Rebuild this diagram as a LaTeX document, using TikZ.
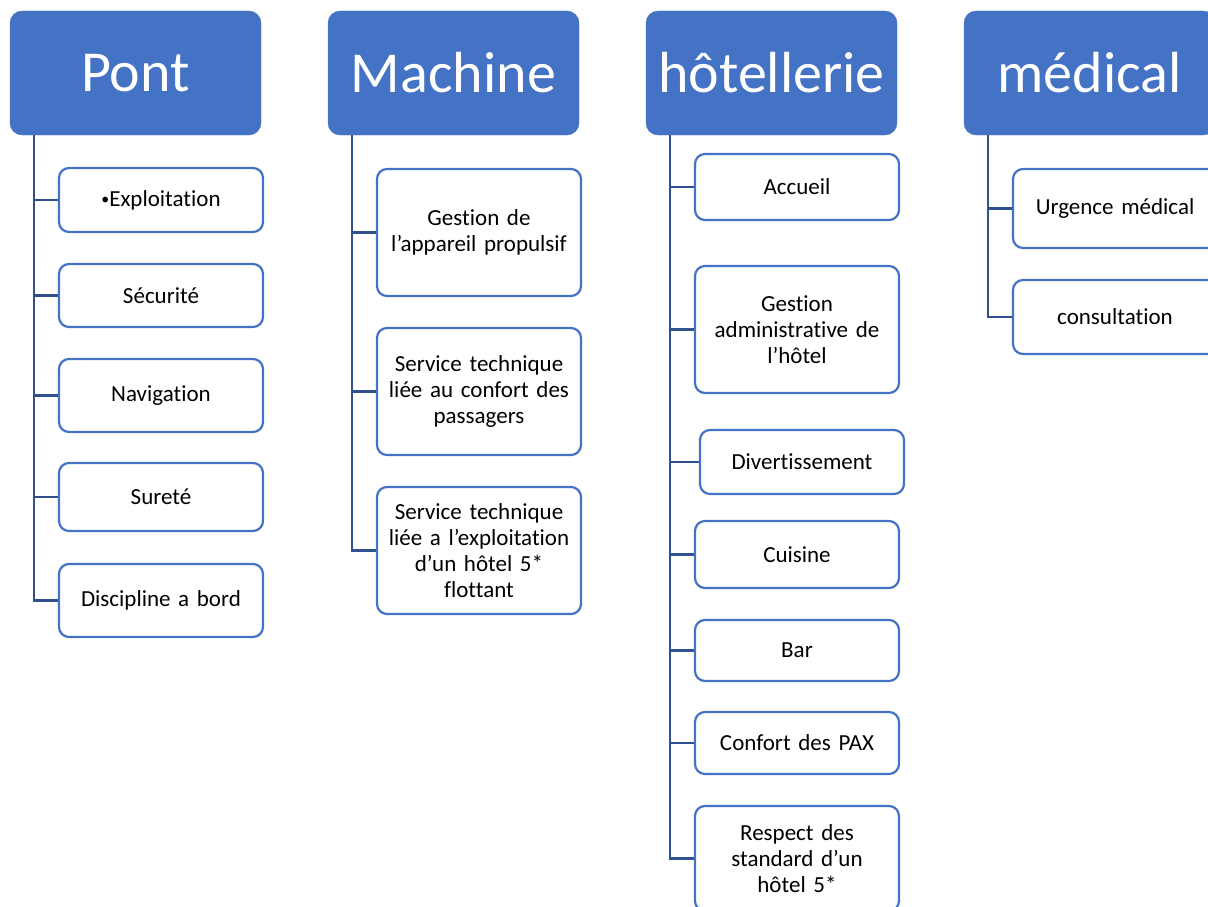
\documentclass[tikz,border=0pt]{standalone}
\usepackage{fontspec}
\setmainfont{Carlito}[Ligatures={NoCommon,TeX}]
\usetikzlibrary{positioning}
\definecolor{boxblue}{HTML}{4472C4}
\definecolor{lineblue}{HTML}{2F528F}
\tikzset{
  head/.style={fill=boxblue, draw=boxblue, rounded corners=12pt,
    minimum width=251pt, minimum height=124pt, inner sep=0pt,
    text=white, font=\fontsize{58}{60}\selectfont},
  item/.style={draw=boxblue, line width=2.2pt, fill=white, rounded corners=10pt,
    minimum width=204pt, text width=196pt, inner sep=0pt, align=center,
    font=\fontsize{23}{26}\selectfont},
  spine/.style={draw=lineblue, line width=2.6pt},
}

\begin{document}
\begin{tikzpicture}[x=1pt, y=-1pt]
    \useasboundingbox (0,0) rectangle (1208,907);
    \clip (0,0) rectangle (1208,907);
    % define headers
    \node[head] (pont) at (135.5,73) {Pont};
    \node[head] (machine) at (453.5,73) {Machine};
    \node[head] (hotel) at (771.5,73) {hôtellerie};
    \node[head] (medical) at (1089.5,73) {médical};
    % pont
    \node[item, minimum height=64pt] (p1) at (161,200) {{\fontsize{16}{26}\selectfont\raisebox{1.5pt}{•}}Exploitation};
    \node[item, minimum height=63pt] (p2) at (161,295.5) {Sécurité};
    \node[item, minimum height=73pt] (p3) at (161,395.5) {Navigation};
    \node[item, minimum height=68pt] (p4) at (161,497) {Sureté};
    \node[item, minimum height=73pt] (p5) at (161,600.5) {Discipline a bord};
    % machine
    \node[item, minimum height=127pt] (m1) at (479,232.5) {Gestion de\\l’appareil propulsif};
    \node[item, minimum height=127pt] (m2) at (479,391.5) {Service technique\\liée au confort des\\passagers};
    \node[item, minimum height=127pt] (m3) at (479,550.5) {Service technique\\liée a l’exploitation\\d’un hôtel 5*\\flottant};
    % hotellerie
    \node[item, minimum height=66pt] (h1) at (797,187) {Accueil};
    \node[item, minimum height=127pt] (h2) at (797,329.5) {Gestion\\administrative de\\l’hôtel};
    \node[item, minimum height=64pt] (h3) at (802,462) {Divertissement};
    \node[item, minimum height=67pt] (h4) at (797,554.5) {Cuisine};
    \node[item, minimum height=61pt] (h5) at (797,650.5) {Bar};
    \node[item, minimum height=62pt] (h6) at (797,743) {Confort des PAX};
    \node[item, minimum height=105pt] (h7) at (797,858.5) {Respect des\\standard d’un\\hôtel 5*};
    % medical
    \node[item, minimum height=79pt] (d1) at (1115,208.5) {Urgence médical};
    \node[item, minimum height=74pt] (d2) at (1115,317) {consultation};
    % draw spines
    \coordinate (pont_sp) at ([xshift=24pt]pont.south west);
    \coordinate (machine_sp) at ([xshift=24pt]machine.south west);
    \coordinate (hotel_sp) at ([xshift=24pt]hotel.south west);
    \coordinate (medical_sp) at ([xshift=24pt]medical.south west);
    \draw[spine] (pont_sp) |- (p5.west);
    \draw[spine] (pont_sp |- p1.west) -- (p1.west);
    \draw[spine] (pont_sp |- p2.west) -- (p2.west);
    \draw[spine] (pont_sp |- p3.west) -- (p3.west);
    \draw[spine] (pont_sp |- p4.west) -- (p4.west);
    \draw[spine] (machine_sp) |- (m3.west);
    \draw[spine] (machine_sp |- m1.west) -- (m1.west);
    \draw[spine] (machine_sp |- m2.west) -- (m2.west);
    \draw[spine] (hotel_sp) |- (h7.west);
    \draw[spine] (hotel_sp |- h1.west) -- (h1.west);
    \draw[spine] (hotel_sp |- h2.west) -- (h2.west);
    \draw[spine] (hotel_sp |- h3.west) -- (h3.west);
    \draw[spine] (hotel_sp |- h4.west) -- (h4.west);
    \draw[spine] (hotel_sp |- h5.west) -- (h5.west);
    \draw[spine] (hotel_sp |- h6.west) -- (h6.west);
    \draw[spine] (medical_sp) |- (d2.west);
    \draw[spine] (medical_sp |- d1.west) -- (d1.west);
\end{tikzpicture}
\end{document}
